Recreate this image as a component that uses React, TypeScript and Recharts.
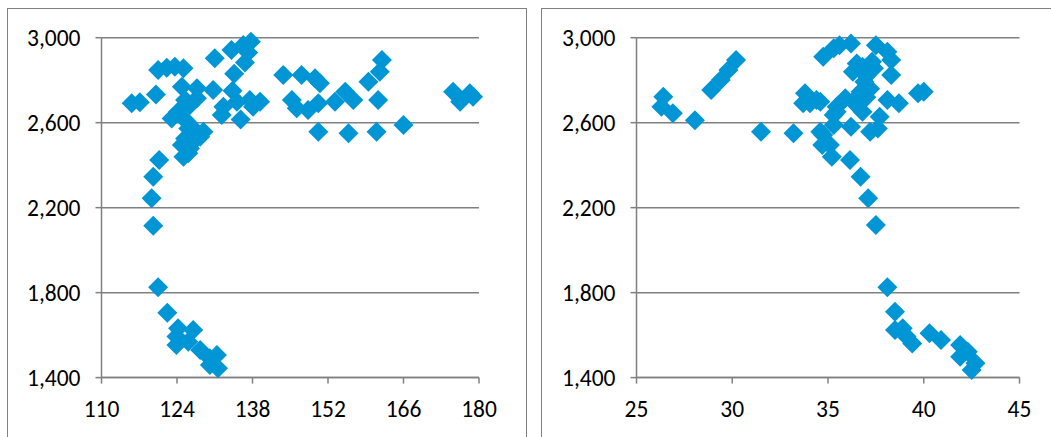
import { CartesianGrid, Scatter, ScatterChart, XAxis, YAxis } from 'recharts'

// left panel: x 110..180
const leftX = [
  115.6, 117.1, 120.1, 120.5, 122.1, 123.6, 125.2, 124.9, 127.7, 130.7,
  131.0, 134.1, 132.6, 132.3, 123.0, 124.2, 126.4, 127.7, 125.5, 125.2,
  120.7, 119.6, 126.1, 127.6, 128.3, 125.5, 124.9, 126.4, 127.0, 128.9,
  126.1, 125.8, 134.6, 135.1, 135.8, 119.3, 119.6, 136.3, 137.7, 137.2,
  136.6, 137.5, 139.4, 138.1, 143.7, 147.1, 149.6, 150.5, 145.3, 146.2,
  148.3, 150.2, 153.3, 155.2, 156.7, 150.2, 155.8, 161.0, 166.0, 159.5,
  161.6, 162.0, 161.3, 175.2, 176.5, 178.3, 178.9, 120.5, 122.2, 124.2,
  127.0, 123.9, 123.9, 126.1, 128.3, 130.1, 131.4, 131.6, 130.1, 134.3,
]
const leftY = [
  2691, 2696, 2733, 2848, 2859, 2863, 2856, 2769, 2762, 2754,
  2903, 2942, 2675, 2636, 2620, 2652, 2683, 2715, 2707, 2440,
  2424, 2346, 2573, 2557, 2534, 2526, 2495, 2479, 2510, 2557,
  2456, 2605, 2830, 2699, 2615, 2244, 2115, 2966, 2981, 2930,
  2883, 2707, 2699, 2675, 2824, 2824, 2809, 2785, 2707, 2668,
  2660, 2691, 2699, 2746, 2707, 2557, 2550, 2557, 2589, 2793,
  2840, 2895, 2707, 2746, 2699, 2738, 2722, 1825, 1705, 1632,
  1624, 1593, 1553, 1569, 1530, 1491, 1506, 1444, 1459, 2750,
]

// right panel: x 25..45
const rightX = [
  26.4, 26.3, 26.9, 28.05, 28.9, 29.4, 29.8, 30.2, 31.5, 33.2,
  33.8, 33.7, 34.4, 34.06, 34.75, 35.3, 34.75, 34.7, 35.2, 35.3,
  35.45, 35.6, 36.2, 37.5, 38.1, 38.3, 38.3, 36.3, 36.8, 37.4,
  36.9, 36.7, 35.9, 35.45, 35.3, 36.5, 36.8, 38.1, 38.7, 39.7,
  37.7, 37.6, 37.2, 36.2, 36.15, 36.7, 34.6, 37.1, 37.5, 36.5,
  37.3, 34.6, 35.1, 40.0, 37.0, 37.2, 36.3, 37.0, 38.1, 38.5,
  38.5, 38.9, 39.4, 39.1, 40.3, 40.9, 41.9, 42.3, 41.9, 42.7,
  42.5,
]
const rightY = [
  2722, 2675, 2644, 2612, 2754, 2801, 2848, 2895, 2557, 2550,
  2738, 2691, 2707, 2691, 2910, 2950, 2542, 2495, 2440, 2589,
  2652, 2965, 2973, 2965, 2934, 2895, 2824, 2840, 2863, 2856,
  2793, 2746, 2715, 2675, 2636, 2683, 2652, 2707, 2691, 2738,
  2628, 2573, 2557, 2581, 2424, 2346, 2699, 2244, 2118, 2879,
  2887, 2557, 2495, 2745, 2820, 2760, 2700, 2720, 1825, 1710,
  1624, 1632, 1561, 1593, 1609, 1577, 1553, 1522, 1498, 1467,
  1436,
]

const yTicks = [1400, 1800, 2200, 2600, 3000]
const leftTicks = [110, 124, 138, 152, 166, 180]
const rightTicks = [25, 30, 35, 40, 45]

const BLUE = '#0096D6'
const GRID = '#808080'
const FONT = "Carlito, Calibri, 'Liberation Sans', Arial, sans-serif"

const Diamond = (props: any) => {
  const { cx, cy } = props
  const r = 10
  return (
    <path
      d={`M${cx},${cy - r}L${cx + r},${cy}L${cx},${cy + r}L${cx - r},${cy}Z`}
      fill={BLUE}
    />
  )
}

interface PanelProps {
  xs: number[]
  ys: number[]
  ticks: number[]
  left: number
  width: number
  marginLeft: number
  marginRight: number
}

function Panel({ xs, ys, ticks, left, width, marginLeft, marginRight }: PanelProps) {
  const data = xs.map((x, i) => ({ x, y: ys[i] }))
  const tick = { fill: '#000', fontSize: 23.5, fontFamily: FONT }
  return (
    <div style={{ position: 'absolute', left, top: 0 }}>
      <ScatterChart
        width={width}
        height={437}
        margin={{ top: 37.7, right: marginRight, bottom: 19.4, left: marginLeft }}
      >
        <CartesianGrid vertical={false} stroke={GRID} strokeWidth={1.5} />
        <XAxis
          type="number"
          dataKey="x"
          domain={[ticks[0], ticks[ticks.length - 1]]}
          ticks={ticks}
          interval={0}
          height={40}
          tickSize={6}
          tickMargin={17}
          stroke={GRID}
          strokeWidth={1.5}
          tick={tick}
        />
        <YAxis
          type="number"
          dataKey="y"
          domain={[1400, 3000]}
          ticks={yTicks}
          interval={0}
          width={60}
          tickSize={6}
          tickMargin={15}
          stroke={GRID}
          strokeWidth={1.5}
          tick={tick}
          tickFormatter={(v) => Number(v).toLocaleString('en-US')}
        />
        <Scatter data={data} shape={<Diamond />} isAnimationActive={false} />
      </ScatterChart>
    </div>
  )
}

export default function App() {
  return (
    <div
      style={{
        position: 'fixed',
        left: 0,
        top: 0,
        width: 1051,
        height: 437,
        overflow: 'hidden',
        background: '#fff',
      }}
    >
      <div
        style={{
          position: 'absolute',
          left: 7,
          top: 8,
          width: 518,
          height: 460,
          border: `1px solid ${GRID}`,
        }}
      />
      <div
        style={{
          position: 'absolute',
          left: 541,
          top: 8,
          width: 560,
          height: 460,
          border: `1px solid ${GRID}`,
        }}
      />
      <Panel
        xs={leftX}
        ys={leftY}
        ticks={leftTicks}
        left={0}
        width={530}
        marginLeft={41.5}
        marginRight={51}
      />
      <Panel
        xs={rightX}
        ys={rightY}
        ticks={rightTicks}
        left={530}
        width={521}
        marginLeft={46.5}
        marginRight={31.5}
      />
    </div>
  )
}
